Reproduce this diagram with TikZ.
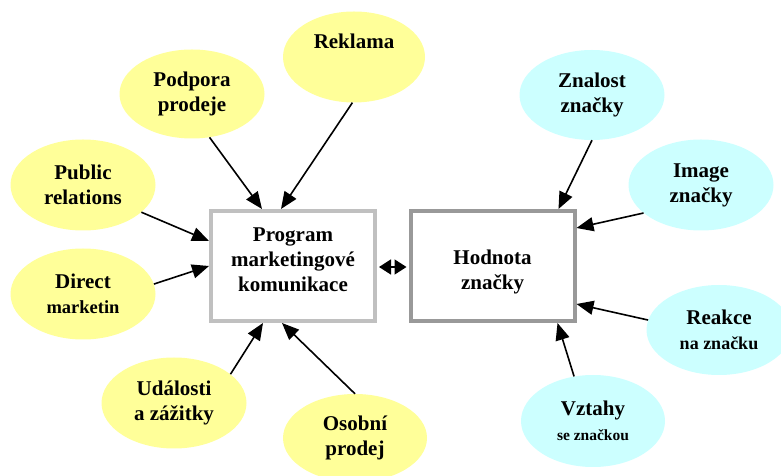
\documentclass[tikz,border=0pt]{standalone}
\usepackage{fontspec}
\setmainfont{Liberation Serif}
\usetikzlibrary{shapes.geometric,arrows.meta}
\definecolor{bubY}{HTML}{FFFF99}
\definecolor{bubC}{HTML}{CCFFFF}
\definecolor{boxA}{HTML}{C0C0C0}
\definecolor{boxB}{HTML}{999999}
\begin{document}
\begin{tikzpicture}[x=1pt,y=1pt,
  bub/.style={ellipse, inner sep=0pt, align=center, minimum width=145pt, minimum height=91pt,
    font=\bfseries\fontsize{21}{25}\selectfont},
  yel/.style={bub, fill=bubY},
  cya/.style={bub, fill=bubC},
  mainbox/.style={rectangle, inner sep=0pt, align=center, minimum width=164pt, minimum height=110pt,
    line width=4pt, fill=white, font=\bfseries\fontsize{21}{25}\selectfont},
  arr/.style={line width=1.6pt, -{Triangle[length=17pt,width=14pt]}}
]
\useasboundingbox (0,0) rectangle (781,476);
\fill[white] (0,0) rectangle (781,476);

% central boxes
\node[mainbox, draw=boxA] (prog) at (293,210) {Program\\marketingové\\komunikace\rule[-13pt]{0pt}{13pt}};
\node[mainbox, draw=boxB] (hod) at (492.5,210) {\rule{0pt}{27pt}Hodnota\\značky};

% yellow bubbles
\node[yel, minimum width=142pt] (rek) at (354,419) {Reklama\\\strut};
\node[yel, minimum height=89pt] (pod) at (192,382) {Podpora\\prodeje};
\node[yel] (pub) at (83,291) {Public\\relations};
\node[yel] (dir) at (83,182) {Direct\\{\fontsize{18.5}{20}\selectfont marketin}};
\node[yel] (uda) at (174,73) {Události\\a zážitky};
\node[yel, minimum width=144pt, minimum height=88pt] (oso) at (355,38) {Osobní\\prodej};

% cyan bubbles
\node[cya, minimum height=90pt] (zna) at (592,381) {Znalost\\značky};
\node[cya] (ima) at (701,291) {Image\\značky};
\node[cya, minimum height=90pt] (rea) at (719,146) {Reakce\\{\fontsize{18}{20}\selectfont na značku}};
\node[cya, minimum width=144pt, minimum height=92pt] (vzt) at (593,55) {Vztahy\\{\fontsize{15.5}{18}\selectfont se značkou}};

% arrows into program box
\draw[arr] (rek.268) -- ([xshift=72pt]prog.north west);
\draw[arr] (pod.292) -- ([xshift=53pt]prog.north west);
\draw[arr] (pub.-25) -- ([yshift=-32pt]prog.north west);
\draw[arr] (dir.8) -- (prog.west);
\draw[arr] (uda.27) -- ([xshift=54pt]prog.south west);
\draw[arr] (oso.north) -- ([xshift=73pt]prog.south west);

% arrows into hodnota box
\draw[arr] (zna.south) -- ([xshift=-18pt]hod.north east);
\draw[arr] (ima.206) -- ([yshift=-19pt]hod.north east);
\draw[arr] (rea.172) -- ([yshift=19pt]hod.south east);
\draw[arr] (vzt.113) -- ([xshift=-19pt]hod.south east);

% double arrow
\draw[line width=1.6pt, {Triangle[length=12pt,width=15pt]}-{Triangle[length=12pt,width=15pt]}]
  ([xshift=2pt,yshift=-1pt]prog.east) -- ([xshift=-2pt,yshift=-1pt]hod.west);
\end{tikzpicture}
\end{document}
